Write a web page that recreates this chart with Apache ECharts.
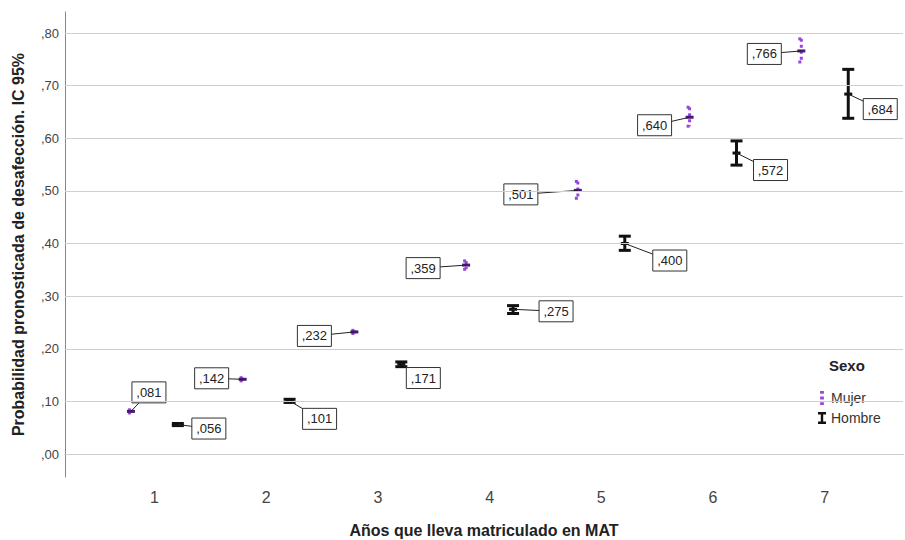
<!DOCTYPE html>
<html><head><meta charset="utf-8">
<script src="https://cdn.jsdelivr.net/npm/echarts@6/dist/echarts.min.js"></script>
<style>html,body{margin:0;padding:0;background:#fff}#c{width:905px;height:540px}</style>
</head><body><div id="c"></div>
<script>
const categories = ['1','2','3','4','5','6','7'];
const yTicks = [0, 0.1, 0.2, 0.3, 0.4, 0.5, 0.6, 0.7, 0.8];
const mujerMean = [0.081, 0.142, 0.232, 0.359, 0.501, 0.640, 0.766];
const mujerLow  = [0.078, 0.139, 0.229, 0.351, 0.486, 0.623, 0.745];
const mujerHigh = [0.084, 0.145, 0.235, 0.367, 0.518, 0.659, 0.789];
const hombreMean = [0.056, 0.101, 0.171, 0.275, 0.400, 0.572, 0.684];
const hombreLow  = [0.054, 0.098, 0.166, 0.267, 0.387, 0.549, 0.638];
const hombreHigh = [0.058, 0.104, 0.175, 0.282, 0.414, 0.595, 0.731];

// label box offsets (px) relative to mean point
const mujerLabelOffset = [[18,-19],[-31,-1],[-40,4],[-43,3],[-57,4],[-35,8],[-37,3]];
const hombreLabelOffset = [[31,4],[30,18],[22,14],[43,2],[45,17],[34,17],[32,15]];

const PURPLE = '#9a44dc';
const FONT = 'Liberation Sans, Arial, sans-serif';
const NARROW = '"Liberation Sans Narrow", "Arial Narrow", "Liberation Sans", Arial, sans-serif';

function build(mean, low, high, shift) {
  return categories.map((c, i) => [Number(c) + shift, mean[i], low[i], high[i]]);
}

function fmt(v) { return ',' + v.toFixed(3).split('.')[1]; }

function makeRender(isMujer, offsets) {
  return function (params, api) {
    const i = params.dataIndex;
    const x = api.value(0), m = api.value(1), lo = api.value(2), hi = api.value(3);
    const p = api.coord([x, m]);
    const pl = api.coord([x, lo]);
    const ph = api.coord([x, hi]);
    const col = isMujer ? PURPLE : '#111';
    const capW = isMujer ? 3 : 6;
    const dash = isMujer ? [3, 3] : null;
    const ch = [];
    ch.push({type:'line', shape:{x1:p[0], y1:ph[1], x2:p[0], y2:pl[1]},
      style:{stroke:col, lineWidth:3, lineDash:dash}});
    ch.push({type:'line', shape:{x1:p[0]-capW, y1:ph[1], x2:p[0]+capW, y2:ph[1]},
      style:{stroke:col, lineWidth:3, lineDash:dash}});
    ch.push({type:'line', shape:{x1:p[0]-capW, y1:pl[1], x2:p[0]+capW, y2:pl[1]},
      style:{stroke:col, lineWidth:3, lineDash:dash}});
    ch.push({type:'line', shape:{x1:p[0]-4, y1:p[1], x2:p[0]+4, y2:p[1]},
      style:{stroke:isMujer ? '#4a1878' : '#111', lineWidth:3}});
    const off = offsets[i];
    const cx = p[0] + off[0], cy = p[1] + off[1];
    const w = 34, h = 21;
    ch.push({type:'line', shape:{x1:p[0], y1:p[1], x2:cx, y2:cy},
      style:{stroke:'#222', lineWidth:1}});
    ch.push({type:'rect', shape:{x:cx - w/2, y:cy - h/2, width:w, height:h},
      style:{fill:'#fff', stroke:'#333', lineWidth:1}});
    ch.push({type:'text', x:cx, y:cy, style:{text:fmt(m), fill:'#222',
      font:'13px ' + FONT, align:'center', verticalAlign:'middle'}});
    return {type:'group', children:ch};
  };
}

const chart = echarts.init(document.getElementById('c'), null, {renderer:'svg'});
chart.setOption({
  animation:false,
  backgroundColor:'#fff',
  grid:{left:65, right:2, top:12, bottom:63, outerBoundsMode:'none', containLabel:false},
  xAxis:{
    type:'value', min:0.2, max:7.7,
    name:'Años que lleva matriculado en MAT', nameLocation:'middle', nameGap:45,
    nameTextStyle:{fontFamily:NARROW, fontWeight:'bold', fontSize:16, color:'#222'},
    axisLine:{show:true, lineStyle:{color:'#888', width:1}},
    axisTick:{show:false},
    splitLine:{show:false},
    axisLabel:{customValues:categories.map(Number), fontFamily:NARROW, fontSize:16, color:'#444', margin:12}
  },
  yAxis:{
    type:'value', min:-0.0437, max:0.84,
    name:'Probabilidad pronosticada de desafección. IC 95%', nameLocation:'middle', nameGap:39, nameRotate:90,
    nameTextStyle:{fontFamily:NARROW, fontWeight:'bold', fontSize:16, color:'#222'},
    axisLine:{show:true, lineStyle:{color:'#888', width:1}},
    axisTick:{show:false},
    splitLine:{show:false},
    axisLabel:{customValues:yTicks, fontFamily:FONT, fontSize:13, color:'#444', margin:6,
      formatter:v => ',' + v.toFixed(2).split('.')[1]}
  },
  legend:{
    orient:'vertical', left:813, top:386, itemWidth:8, itemHeight:14, itemGap:6,
    textStyle:{fontFamily:FONT, fontSize:14, color:'#333'},
    data:[
      {name:'Mujer', icon:'path://M2,0H6V3H2Z M2,6H6V9H2Z M2,12H6V15H2Z', itemStyle:{color:PURPLE}},
      {name:'Hombre', icon:'path://M0,0H10V3H6.5V12H10V15H0V12H3.5V3H0Z', itemStyle:{color:'#111'}}
    ]
  },
  graphic:[{type:'text', left:829, top:358, style:{text:'Sexo', font:'bold 15px ' + FONT, fill:'#222'}}],
  series:[
    {type:'line', silent:true, data:[], markLine:{silent:true, symbol:'none', label:{show:false},
      lineStyle:{color:'#cfcfcf', width:1, type:'solid'},
      data:yTicks.map(v => ({yAxis:v}))}},
    {name:'Mujer', type:'custom', itemStyle:{color:PURPLE},
      renderItem:makeRender(true, mujerLabelOffset),
      encode:{x:0, y:[1,2,3]}, data:build(mujerMean, mujerLow, mujerHigh, -0.21), z:3},
    {name:'Hombre', type:'custom', itemStyle:{color:'#111'},
      renderItem:makeRender(false, hombreLabelOffset),
      encode:{x:0, y:[1,2,3]}, data:build(hombreMean, hombreLow, hombreHigh, 0.21), z:4}
  ]
});
</script></body></html>
